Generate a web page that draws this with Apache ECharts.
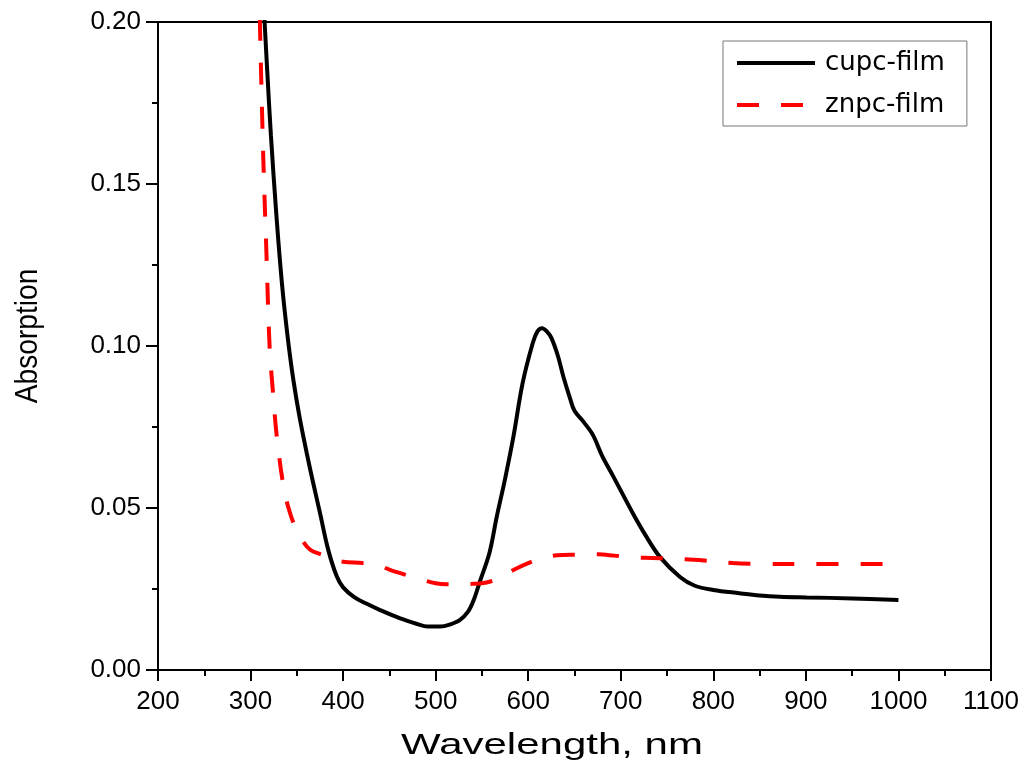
<!DOCTYPE html>
<html>
<head>
<meta charset="utf-8">
<script src="https://cdn.jsdelivr.net/npm/echarts@6/dist/echarts.min.js"></script>
<style>
html,body{margin:0;padding:0;background:#fff;}
#chart{width:1029px;height:772px;}
</style>
</head>
<body>
<div id="chart"></div>
<script>
// Wavelength (nm) and absorption readings
var cupcWavelength = [315,318,322,328,334,340,346,353,364,375,384,393,400,412,425,440,461,480,491,505,515,526,535,541,548,558,566,575,584,594,605,610,615,620,625,632,638,645,650,660,670,680,692,713,728,742,764,780,800,828,850,872,901,950,1000];
var cupcAbsorption = [0.201,0.185,0.165,0.140,0.119,0.103,0.090,0.078,0.0625,0.0485,0.037,0.029,0.0255,0.0225,0.0205,0.0185,0.016,0.0142,0.0134,0.0134,0.014,0.0154,0.018,0.0215,0.0275,0.036,0.0473,0.059,0.072,0.0886,0.101,0.1045,0.1055,0.1045,0.1025,0.097,0.0905,0.084,0.080,0.0765,0.0725,0.066,0.0597,0.0484,0.041,0.035,0.0287,0.026,0.0247,0.0237,0.023,0.0226,0.0224,0.0221,0.0216];

var znpcWavelength = [310,313.5,317,320.7,324,328,335,341,348,356,365,378,390,400,421,436,450,465,480,500,512,525,540,555,570,585,600,615,631,653,675,693,710,742,770,790,821,843,900,1000];
var znpcAbsorption = [0.201,0.1605,0.130,0.099,0.0865,0.073,0.0577,0.050,0.0443,0.040,0.037,0.0355,0.034,0.0334,0.033,0.0325,0.031,0.0296,0.0283,0.0268,0.0265,0.0265,0.0266,0.027,0.0285,0.031,0.033,0.0345,0.0354,0.0356,0.0357,0.0353,0.0348,0.0345,0.0342,0.0338,0.033,0.0328,0.0327,0.0327];

var seriesNames = ['cupc-film', 'znpc-film'];
var xTitle = 'Wavelength, nm';
var yTitle = 'Absorption';

function pairs(xs, ys){ return xs.map(function(x,i){ return [x, ys[i]]; }); }

var FONT = "'Liberation Sans', Arial, sans-serif";
var chart = echarts.init(document.getElementById('chart'));
chart.setOption({
  animation: false,
  backgroundColor: '#fff',
  grid: {left: 158, right: 38, top: 22, bottom: 102, show: true, borderColor: '#000', borderWidth: 2, backgroundColor: 'transparent'},
  legend: {
    orient: 'vertical', left: 723, top: 41,
    data: seriesNames.map(function(n){ return {name: n, itemStyle: {opacity: 0}, lineStyle: {width: 4}}; }),
    itemWidth: 78, itemHeight: 24, itemGap: 16,
    padding: [9, 22, 8, 12],
    borderColor: '#777', borderWidth: 1,
    itemStyle: {opacity: 0},
    lineStyle: {width: 4},
    textStyle: {fontSize: 26, fontFamily: "'DejaVu Sans', sans-serif", color: '#000', padding: [0, 0, 0, 5]}
  },
  xAxis: {
    type: 'value', min: 200, max: 1100, interval: 100,
    axisLine: {show: true, onZero: false, lineStyle: {color: '#000', width: 2}},
    axisTick: {show: true, inside: false, length: 11, lineStyle: {color: '#000', width: 2}},
    minorTick: {show: true, splitNumber: 2, length: 6, lineStyle: {color: '#000', width: 2}},
    axisLabel: {fontSize: 26, fontFamily: FONT, color: '#000', margin: 19,
      formatter: function(v){ return String(v); }},
    splitLine: {show: false}
  },
  yAxis: {
    type: 'value', min: 0, max: 0.2, interval: 0.05,
    axisLine: {show: true, onZero: false, lineStyle: {color: '#000', width: 2}},
    axisTick: {show: true, inside: false, length: 12, lineStyle: {color: '#000', width: 2}},
    minorTick: {show: true, splitNumber: 2, length: 6, lineStyle: {color: '#000', width: 2}},
    axisLabel: {fontSize: 26, fontFamily: FONT, color: '#000', margin: 17,
      formatter: function(v){ return v.toFixed(2); }},
    splitLine: {show: false}
  },
  graphic: [
    {type: 'text', x: 552, y: 746, scaleX: 1.4,
     style: {text: xTitle, font: '30px ' + FONT, fill: '#000', align: 'center', verticalAlign: 'middle'}},
    {type: 'text', x: 28, y: 336, rotation: Math.PI/2, scaleX: 0.88,
     style: {text: yTitle, font: '32px ' + FONT, fill: '#000', align: 'center', verticalAlign: 'middle'}}
  ],
  series: [
    {name: seriesNames[0], type: 'line', data: pairs(cupcWavelength, cupcAbsorption),
     showSymbol: false, symbol: 'none', smooth: 0.35, clip: true,
     lineStyle: {color: '#000', width: 4}, itemStyle: {color: '#000'}},
    {name: seriesNames[1], type: 'line', data: pairs(znpcWavelength, znpcAbsorption),
     showSymbol: false, symbol: 'none', smooth: 0.35, clip: true,
     lineStyle: {color: '#ff0000', width: 4, type: [22, 22], cap: 'butt'}, itemStyle: {color: '#ff0000'}}
  ]
});
</script>
</body>
</html>
